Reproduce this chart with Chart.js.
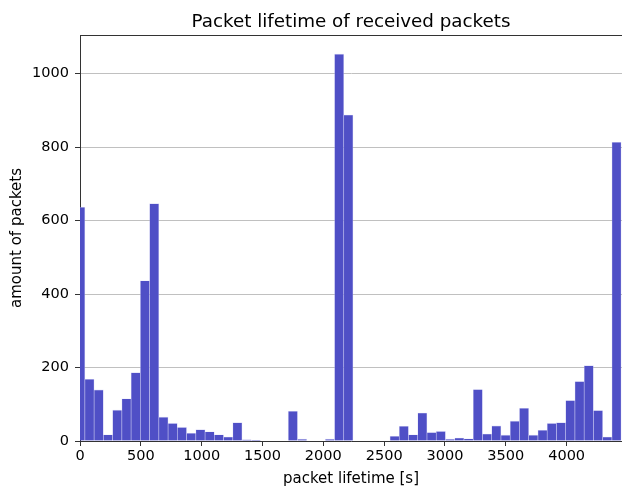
<!DOCTYPE html>
<html>
<head>
<meta charset="utf-8">
<script src="https://cdn.jsdelivr.net/npm/chart.js@4"></script>
<style>
  html, body { margin: 0; padding: 0; background: #fff; }
  #wrap { width: 622px; height: 488px; }
</style>
</head>
<body>
<div id="wrap"><canvas id="c" width="622" height="488"></canvas></div>
<script>
// Histogram: bin edges start and width (seconds), and counts per bin
const binStart = -36;
const binWidth = 76;
const counts = [
  636, 168, 139, 17, 84, 115, 186, 436, 646, 65,
  48, 37, 21, 31, 25, 17, 11, 50, 3, 2,
  0, 0, 0, 81, 5, 0, 0, 5, 1053, 887,
  0, 0, 0, 0, 13, 40, 17, 76, 23, 26,
  5, 8, 6, 140, 19, 41, 16, 54, 89, 16,
  29, 48, 50, 110, 162, 205, 83, 11, 813
];
const xTicks = [0, 500, 1000, 1500, 2000, 2500, 3000, 3500, 4000];
const yTicks = [0, 200, 400, 600, 800, 1000];
const xMax = 4455;
const yMax = 1105;
const titleText = 'Packet lifetime of received packets';

const points = counts.map((c, i) => ({ x: binStart + binWidth * (i + 0.5), y: c }));

const FONT = "'DejaVu Sans', sans-serif";

const frame = {
  id: 'frame',
  afterDraw(chart) {
    const { ctx, chartArea } = chart;
    ctx.save();
    ctx.strokeStyle = '#333';
    ctx.lineWidth = 1;
    ctx.beginPath();
    ctx.moveTo(chartArea.left, Math.round(chartArea.top) + 0.5);
    ctx.lineTo(chartArea.right, Math.round(chartArea.top) + 0.5);
    ctx.stroke();
    ctx.fillStyle = '#000';
    ctx.font = '18.3px ' + FONT;
    ctx.textAlign = 'center';
    ctx.textBaseline = 'alphabetic';
    ctx.fillText(titleText, (chartArea.left + chartArea.right) / 2, 26.5);
    ctx.restore();
  }
};

new Chart(document.getElementById('c'), {
  type: 'bar',
  data: {
    datasets: [{
      data: points,
      backgroundColor: '#4f4fc6',
      borderColor: 'rgba(190,190,240,0.55)',
      borderWidth: 0.6,
      barPercentage: 1,
      categoryPercentage: 1,
      clip: 0
    }]
  },
  options: {
    responsive: false,
    animation: false,
    devicePixelRatio: 1,
    layout: { padding: { left: 0, right: 0, top: 35, bottom: 0 } },
    plugins: {
      legend: { display: false },
      tooltip: { enabled: false },
      title: { display: false }
    },
    scales: {
      x: {
        type: 'linear',
        min: 0,
        max: xMax,
        offset: false,
        z: 1,
        afterBuildTicks: (axis) => { axis.ticks = xTicks.map(v => ({ value: v })); },
        afterFit: (axis) => { axis.height = 47; },
        grid: {
          drawOnChartArea: false,
          drawTicks: true,
          tickLength: 5,
          tickColor: '#333',
          tickWidth: 1,
          offset: false
        },
        border: { display: true, color: '#333', width: 1 },
        ticks: {
          color: '#000',
          font: { family: FONT, size: 14.5 },
          padding: 2,
          maxRotation: 0,
          autoSkip: false,
          callback: (v) => String(v)
        },
        title: {
          display: true,
          text: 'packet lifetime [s]',
          color: '#000',
          font: { family: FONT, size: 15 },
          padding: { top: 0, bottom: 0 }
        }
      },
      y: {
        type: 'linear',
        min: 0,
        max: yMax,
        z: 1,
        afterBuildTicks: (axis) => { axis.ticks = yTicks.map(v => ({ value: v })); },
        afterFit: (axis) => { axis.width = 80; },
        grid: {
          drawOnChartArea: true,
          color: '#c0c0c0',
          lineWidth: 1,
          drawTicks: true,
          tickLength: 5,
          tickColor: '#333',
          tickWidth: 1
        },
        border: { display: true, color: '#333', width: 1 },
        ticks: {
          color: '#000',
          font: { family: FONT, size: 14.5 },
          padding: 6,
          callback: (v) => String(v)
        },
        title: {
          display: true,
          text: 'amount of packets',
          color: '#000',
          font: { family: FONT, size: 15 },
          padding: { top: 8, bottom: 0 }
        }
      }
    }
  },
  plugins: [frame]
});
</script>
</body>
</html>
